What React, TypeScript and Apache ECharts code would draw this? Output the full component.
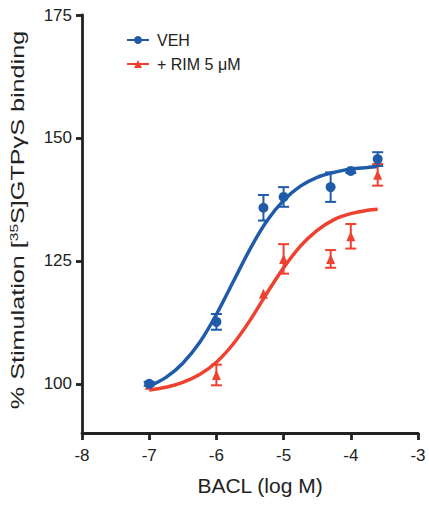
import React, { useEffect, useRef } from "react";
import * as echarts from "echarts";

// Measured points (log M, % stimulation, SEM)
const doseX = [-7, -6, -5.3, -5, -4.3, -4, -3.6];
const vehMean = [100, 112.6, 135.8, 138.0, 140.0, 143.3, 145.7];
const vehSem = [0.4, 1.6, 2.6, 2.0, 3.0, 0.4, 1.4];
const rimMean = [99.8, 101.8, 118.3, 125.4, 125.4, 130.0, 142.5];
const rimSem = [0, 2.1, 0, 3.0, 1.8, 2.5, 2.2];

// Fitted curves
const fitX = [-7, -6.75, -6.5, -6.25, -6, -5.75, -5.5, -5.25, -5, -4.75, -4.5, -4.25, -4, -3.75, -3.6];
const vehFit = [99.5, 101.3, 104.2, 108.4, 114.1, 120.75, 127.4, 133.1, 137.3, 140.2, 142.0, 143.0, 143.7, 144.0, 144.2];
const rimFit = [98.75, 99.3, 100.3, 101.9, 104.4, 108.1, 112.9, 118.4, 123.6, 128.0, 131.2, 133.4, 134.6, 135.3, 135.5];

const yTicks = [100, 125, 150, 175];
const vehName = "VEH";
const rimName = "+ RIM 5 μM";
const xTitle = "BACL (log M)";

const BLUE = "#1f5ba8";
const RED = "#ee4130";
const INK = "#222222";
const FONT = "'Liberation Sans', Arial, Helvetica, sans-serif";

function errorSeries(name: string, means: number[], sems: number[], color: string) {
  return {
    type: "custom",
    name,
    z: 5,
    data: doseX.map((x, i) => [x, means[i], sems[i]]),
    renderItem: (params: any, api: any) => {
      const x = api.value(0);
      const y = api.value(1);
      const e = api.value(2);
      if (!e) return { type: "group", children: [] };
      const top = api.coord([x, y + e]);
      const bot = api.coord([x, y - e]);
      const hw = 5.5;
      const st = { stroke: color, lineWidth: 2 };
      return {
        type: "group",
        children: [
          { type: "line", shape: { x1: top[0], y1: top[1], x2: bot[0], y2: bot[1] }, style: st },
          { type: "line", shape: { x1: top[0] - hw, y1: top[1], x2: top[0] + hw, y2: top[1] }, style: st },
          { type: "line", shape: { x1: bot[0] - hw, y1: bot[1], x2: bot[0] + hw, y2: bot[1] }, style: st },
        ],
      };
    },
  };
}

export default function App() {
  const ref = useRef<HTMLDivElement>(null);
  useEffect(() => {
    if (!ref.current) return;
    const chart = echarts.init(ref.current, undefined, { renderer: "svg" });
    chart.setOption({
      animation: false,
      backgroundColor: "#ffffff",
      grid: { left: 82, right: 11, top: 15, bottom: 73, containLabel: false },
      legend: {
        orient: "vertical",
        left: 121,
        top: 27,
        itemWidth: 22,
        itemHeight: 10,
        itemGap: 8,
        data: [vehName, rimName],
        textStyle: { fontFamily: FONT, fontSize: 16, color: INK, padding: [0, 0, 0, 3] },
      },
      xAxis: {
        type: "value",
        min: -8,
        max: -3,
        interval: 1,
        name: xTitle,
        nameLocation: "middle",
        nameGap: 42,
        nameTextStyle: { fontFamily: FONT, fontSize: 21, color: INK, padding: [0, 0, 0, 20] },
        axisLine: { lineStyle: { color: INK, width: 2.8 } },
        axisTick: { show: true, length: 7, lineStyle: { color: INK, width: 2.8 } },
        axisLabel: { fontFamily: FONT, fontSize: 17, color: INK, margin: 14 },
        splitLine: { show: false },
      },
      yAxis: {
        type: "value",
        min: 90,
        max: 175,
        axisLine: { show: true, lineStyle: { color: INK, width: 2.8 } },
        axisTick: { show: true, length: 6, customValues: yTicks, lineStyle: { color: INK, width: 2.8 } },
        axisLabel: { fontFamily: FONT, fontSize: 17, color: INK, margin: 10, customValues: yTicks },
        splitLine: { show: false },
      },
      graphic: [
        {
          type: "text",
          x: 18,
          y: 220,
          rotation: Math.PI / 2,
          scaleX: 1.4,
          style: {
            text: "% Stimulation [{sup|35}S]GTPγS binding",
            fontFamily: FONT,
            fontSize: 18,
            fill: INK,
            align: "center",
            verticalAlign: "middle",
            rich: {
              sup: { fontFamily: FONT, fontSize: 11, fill: INK, verticalAlign: "top", padding: [0, 0, 8, 0] },
            },
          },
        },
      ],
      series: [
        {
          type: "line",
          name: rimName,
          data: fitX.map((x, i) => [x, rimFit[i]]),
          smooth: 0.3,
          showSymbol: false,
          symbol: "triangle",
          symbolSize: 10,
          itemStyle: { color: RED },
          lineStyle: { color: RED, width: 3.5 },
          z: 2,
        },
        {
          type: "line",
          name: vehName,
          data: fitX.map((x, i) => [x, vehFit[i]]),
          smooth: 0.3,
          showSymbol: false,
          symbol: "circle",
          symbolSize: 8,
          itemStyle: { color: BLUE },
          lineStyle: { color: BLUE, width: 3.5 },
          z: 3,
        },
        errorSeries("RIM sem", rimMean, rimSem, RED),
        {
          type: "scatter",
          name: "RIM points",
          data: doseX.map((x, i) => [x, rimMean[i]]),
          symbol: "triangle",
          symbolSize: [9, 10],
          itemStyle: { color: RED, opacity: 1 },
          z: 6,
        },
        errorSeries("VEH sem", vehMean, vehSem, BLUE),
        {
          type: "scatter",
          name: "VEH points",
          data: doseX.map((x, i) => [x, vehMean[i]]),
          symbol: "circle",
          symbolSize: 10,
          itemStyle: { color: BLUE, opacity: 1 },
          z: 7,
        },
      ],
    });
    return () => chart.dispose();
  }, []);
  return <div ref={ref} style={{ position: "absolute", left: 0, top: 0, width: 429, height: 506 }} />;
}
